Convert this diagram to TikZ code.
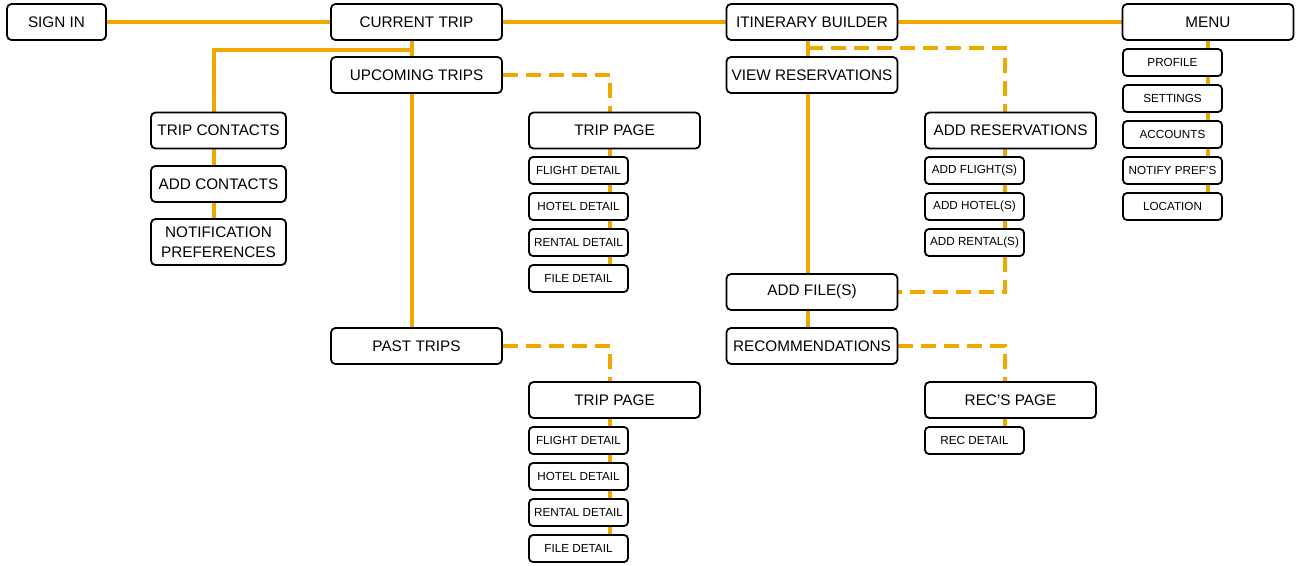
\documentclass[tikz,border=0pt]{standalone}
\usepackage{fontspec}
\setmainfont{Liberation Sans}
\usetikzlibrary{backgrounds}
\definecolor{lineor}{RGB}{240,168,0}
\tikzset{
  big/.style={draw=black, line width=1.8pt, rounded corners=4.5pt, fill=white, minimum width=171pt, minimum height=36pt, inner sep=0pt, font=\fontsize{15.3}{20}\selectfont, align=center},
  small/.style={draw=black, line width=1.8pt, rounded corners=4pt, fill=white, minimum width=99pt, minimum height=27pt, inner sep=0pt, font=\fontsize{11.7}{13}\selectfont},
  link/.style={draw=lineor, line width=4pt},
  dlink/.style={draw=lineor, line width=4pt, dash pattern=on 15pt off 8pt},
}
\begin{document}
\begin{tikzpicture}[x=1pt, y=-1pt]
\useasboundingbox (0,0) rectangle (1300,565);
% top row
\node[big, minimum width=99pt] (si) at (56.5,22) {SIGN IN};
\node[big] (ct) at (416.5,22) {CURRENT TRIP};
\node[big] (ib) at (812,22) {ITINERARY BUILDER};
\node[big] (menu) at (1208,22) {MENU};
% current trip column
\node[big] (up) at (416.5,75) {UPCOMING TRIPS};
\node[big] (past) at (416.5,346) {PAST TRIPS};
\node[big, minimum width=135pt] (tc) at (218.5,130.5) {TRIP CONTACTS};
\node[big, minimum width=135pt] (ac) at (218.5,184) {ADD CONTACTS};
\node[big, minimum width=135pt, minimum height=46pt] (np) at (218.5,242) {NOTIFICATION\\PREFERENCES};
% trip page 1
\node[big] (tp1) at (614.5,130.5) {TRIP PAGE};
\node[small] (fl1) at (578.5,170.5) {FLIGHT DETAIL};
\node[small] (ho1) at (578.5,206.5) {HOTEL DETAIL};
\node[small] (re1) at (578.5,242.5) {RENTAL DETAIL};
\node[small] (fi1) at (578.5,278.5) {FILE DETAIL};
% trip page 2
\node[big] (tp2) at (614.5,400) {TRIP PAGE};
\node[small] (fl2) at (578.5,440.5) {FLIGHT DETAIL};
\node[small] (ho2) at (578.5,476.5) {HOTEL DETAIL};
\node[small] (re2) at (578.5,512.5) {RENTAL DETAIL};
\node[small] (fi2) at (578.5,548.5) {FILE DETAIL};
% itinerary builder column
\node[big] (vr) at (812,75) {VIEW RESERVATIONS};
\node[big] (af) at (812,292) {ADD FILE(S)};
\node[big] (rec) at (812,346) {RECOMMENDATIONS};
\node[big] (ar) at (1010.5,130.5) {ADD RESERVATIONS};
\node[small] (afl) at (974.5,170.5) {ADD FLIGHT(S)};
\node[small] (aho) at (974.5,206.5) {ADD HOTEL(S)};
\node[small] (are) at (974.5,242.5) {ADD RENTAL(S)};
\node[big] (rp) at (1010.5,400) {REC\symbol{39}S PAGE};
\node[small] (rd) at (974.5,440.5) {REC DETAIL};
% menu column
\node[small] (pro) at (1172.5,62.5) {PROFILE};
\node[small] (set) at (1172.5,98.5) {SETTINGS};
\node[small] (acc) at (1172.5,134.5) {ACCOUNTS};
\node[small] (nop) at (1172.5,170.5) {NOTIFY PREF\symbol{39}S};
\node[small] (loc) at (1172.5,206.5) {LOCATION};

\begin{pgfonlayer}{background}
% main row
\draw[link] (si.east) -- (ct.west);
\draw[link] (ct.east) -- (ib.west);
\draw[link] (ib.east) -- (menu.west);
% current trip trunk
\draw[link] ([xshift=-4.5pt]ct.south) -- ([xshift=-4.5pt]past.north);
\draw[link] ([xshift=-4.5pt,yshift=-9pt]ct.south) -| ([xshift=-4.5pt]tc.north);
\draw[link] ([xshift=-4.5pt]tc.south) -- ([xshift=-4.5pt]np.north);
% trip pages
\draw[dlink] (up.east) -| ([xshift=-4.5pt]tp1.north);
\draw[link] ([xshift=-4.5pt]tp1.south) -- ([xshift=31.5pt]fi1.north);
\draw[dlink] (past.east) -| ([xshift=-4.5pt]tp2.north);
\draw[link] ([xshift=-4.5pt]tp2.south) -- ([xshift=31.5pt]fi2.north);
% itinerary builder trunk
\draw[link] ([xshift=-4pt]ib.south) -- ([xshift=-4pt]af.north);
\draw[link] ([xshift=-4pt]af.south) -- ([xshift=-4pt]rec.north);
\draw[dlink] ([xshift=-4pt,yshift=-7pt]ib.south) -| ([xshift=-5.5pt]ar.north);
\draw[link] ([xshift=-5.5pt]ar.south) -- ([xshift=30.5pt]are.north);
\draw[dlink] ([xshift=30.5pt]are.south) |- (af.east);
\draw[dlink] (rec.east) -| ([xshift=-5.5pt]rp.north);
\draw[link] ([xshift=-5.5pt]rp.south) -- ([xshift=30.5pt]rd.north);
% menu
\draw[link] (menu.south) -- ([xshift=35.5pt]loc.north);
\end{pgfonlayer}
\end{tikzpicture}
\end{document}
